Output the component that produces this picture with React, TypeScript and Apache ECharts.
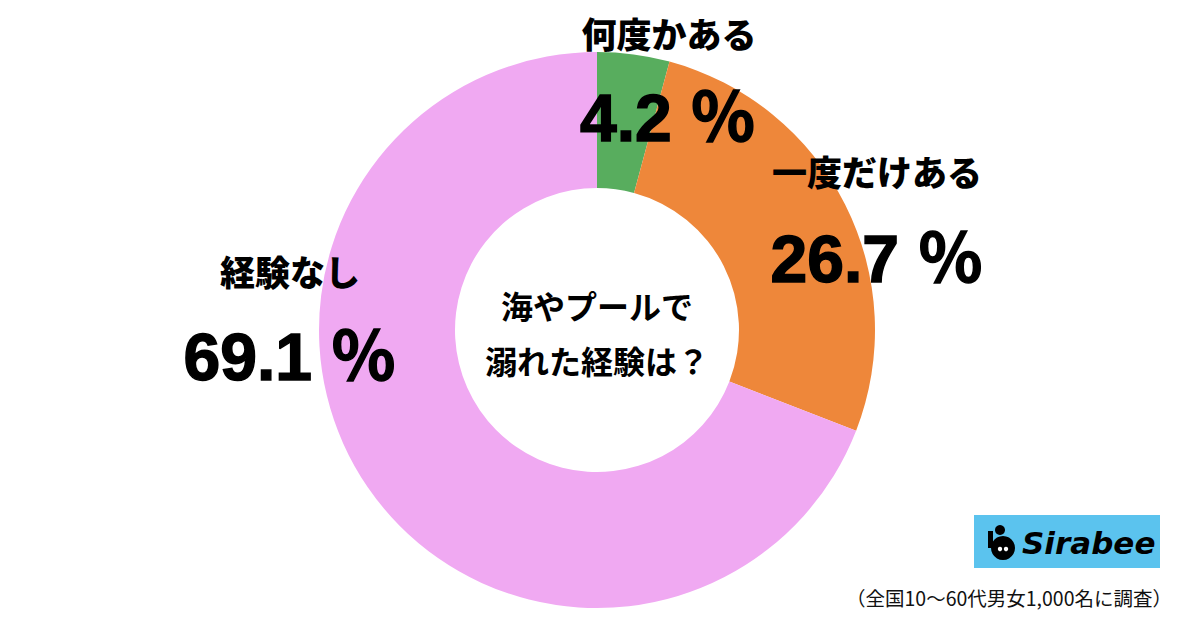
import React, { useEffect, useRef } from "react";
import * as echarts from "echarts";

const categories = ["何度かある", "一度だけある", "経験なし"];
const values = [4.2, 26.7, 69.1];
const colors = ["#58AD5E", "#EE873A", "#F0A9F2"];
const title = ["海やプールで", "溺れた経験は？"];
const footnote = "（全国10〜60代男女1,000名に調査）";
const brand = "Sirabee";

const FONT = '"Noto Sans CJK JP", "Noto Sans", sans-serif';
const NUMFONT = '"Liberation Sans", Arial, "Noto Sans CJK JP", sans-serif';

export default function App() {
  const ref = useRef<HTMLDivElement>(null);
  useEffect(() => {
    document.body.style.margin = "0";
    const chart = echarts.init(ref.current!, null, { renderer: "svg" });
    const pct = (v: number) => `${v.toFixed(1)} ％`;
    const head = (x: number, y: number, text: string) => ({
      type: "text",
      z: 100,
      x,
      y,
      style: {
        text,
        fill: "#000",
        font: `900 35px ${FONT}`,
        textAlign: "center",
        textVerticalAlign: "middle",
      },
    });
    const num = (x: number, y: number, v: number) => ({
      type: "text",
      z: 100,
      x,
      y,
      style: {
        text: pct(v),
        fill: "#000",
        stroke: "#000",
        lineWidth: 1.5,
        font: `bold 66px ${NUMFONT}`,
        textAlign: "center",
        textVerticalAlign: "middle",
      },
    });
    const ttl = (y: number, text: string) => ({
      type: "text",
      z: 100,
      x: 597,
      y,
      style: {
        text,
        fill: "#000",
        font: `bold 32px ${FONT}`,
        textAlign: "center",
        textVerticalAlign: "middle",
      },
    });
    chart.setOption({
      animation: false,
      backgroundColor: "#fff",
      series: [
        {
          type: "pie",
          z: 1,
          center: [597, 330],
          radius: [142, 278],
          startAngle: 90,
          clockwise: true,
          label: { show: false },
          labelLine: { show: false },
          emphasis: { disabled: true },
          itemStyle: { borderWidth: 0 },
          data: categories.map((c, i) => ({
            name: c,
            value: values[i],
            itemStyle: { color: colors[i] },
          })),
        },
      ],
      graphic: [
        head(669, 32, categories[0]),
        num(668, 118, values[0]),
        head(877, 170, categories[1]),
        num(877, 259, values[1]),
        head(290, 270, categories[2]),
        num(290, 357, values[2]),
        ttl(305, title[0]),
        ttl(360, title[1]),
        { type: "rect", z: 100, shape: { x: 974, y: 515, width: 186, height: 53 }, style: { fill: "#5BC3EE" } },
        { type: "circle", z: 101, shape: { cx: 1003, cy: 548, r: 12 }, style: { fill: "#000" } },
        { type: "circle", z: 101, shape: { cx: 1000, cy: 530, r: 5 }, style: { fill: "#000" } },
        { type: "rect", z: 101, shape: { x: 988, y: 531, width: 5, height: 17 }, style: { fill: "#000" } },
        { type: "circle", z: 102, shape: { cx: 1000, cy: 549, r: 2.2 }, style: { fill: "#fff" } },
        { type: "circle", z: 102, shape: { cx: 1006, cy: 549, r: 2.2 }, style: { fill: "#fff" } },
        {
          type: "text",
          z: 101,
          x: 1022,
          y: 543,
          style: {
            text: brand,
            fill: "#000",
            font: `italic 900 31px "DejaVu Sans", sans-serif`,
            textAlign: "left",
            textVerticalAlign: "middle",
          },
        },
        {
          type: "text",
          z: 100,
          x: 1172,
          y: 597,
          style: {
            text: footnote,
            fill: "#111",
            font: `19.5px ${FONT}`,
            textAlign: "right",
            textVerticalAlign: "middle",
          },
        },
      ],
    });
    return () => chart.dispose();
  }, []);
  return <div ref={ref} style={{ width: 1200, height: 617 }} />;
}
